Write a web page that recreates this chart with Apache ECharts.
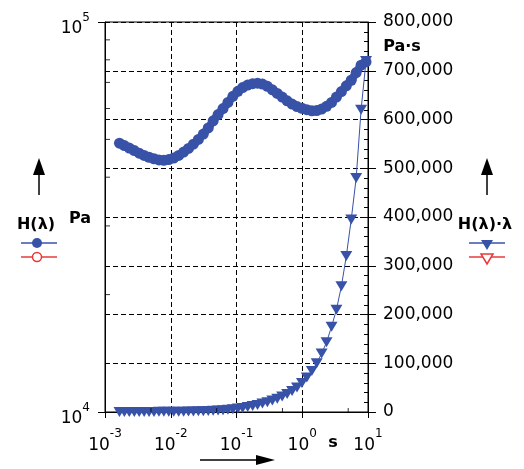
<!DOCTYPE html>
<html lang="en">
<head>
<meta charset="UTF-8">
<script src="https://cdn.jsdelivr.net/npm/echarts/dist/echarts.min.js"></script>
<style>
  html, body { margin: 0; padding: 0; background: #fff; }
  #main { width: 524px; height: 469px; }
</style>
</head>
<body>
<div id="main"></div>
<script>
// relaxation time lambda [s]
var lambda = [0.00166, 0.00197, 0.00234, 0.00279, 0.00331, 0.00394, 0.00468, 0.00556, 0.00661, 0.00785,
  0.00933, 0.0111, 0.0132, 0.0157, 0.0186, 0.0221, 0.0263, 0.0313, 0.0372, 0.0442,
  0.0525, 0.0624, 0.0741, 0.0881, 0.105, 0.124, 0.148, 0.176, 0.209, 0.248,
  0.295, 0.351, 0.417, 0.495, 0.589, 0.700, 0.832, 0.989, 1.175, 1.40,
  1.66, 1.97, 2.34, 2.79, 3.31, 3.94, 4.68, 5.56, 6.61, 7.85, 9.33];
// H(lambda) [Pa]
var hValues = [48900, 48200, 47500, 46800, 46100, 45500, 45000, 44600, 44300, 44200,
  44400, 44800, 45500, 46400, 47400, 48600, 50000, 51600, 53500, 55800,
  57900, 60000, 62200, 64500, 66400, 67900, 68900, 69500, 69700, 69300,
  68400, 67000, 65600, 64200, 62800, 61600, 60700, 60100, 59600, 59200,
  59300, 59800, 60800, 62200, 64200, 66300, 68600, 70900, 74200, 77500, 79000];
// H(lambda)*lambda [Pa*s]
var hLambda = [80, 95, 110, 130, 150, 180, 210, 250, 290, 350,
  410, 500, 600, 730, 880, 1070, 1320, 1620, 1990, 2470,
  3040, 3740, 4610, 5680, 6970, 8420, 10200, 12200, 14600, 17200,
  20200, 23500, 27400, 31800, 37000, 43100, 50500, 59400, 71000, 84000,
  100000, 120000, 143000, 175000, 210000, 258000, 320000, 395000, 480000, 620000, 720000];

var xMinorTicks = [0.005, 0.05, 0.5, 5];
var yMinorTicks = [20000, 30000, 40000, 50000, 60000, 70000, 80000, 90000];

var blue = '#3852a8';
var red = '#e8383a';
var font = 'DejaVu Sans';
var capFont = 'bold 16px "DejaVu Sans"';

var chart = echarts.init(document.getElementById('main'));

var powRich = {
  b: { fontSize: 17, fontFamily: font, color: '#000', verticalAlign: 'bottom', lineHeight: 18 },
  s: { fontSize: 12, fontFamily: font, color: '#000', verticalAlign: 'top', lineHeight: 26 }
};
function powLabel(v) {
  return '{b|10}{s|' + Math.round(Math.log10(v)) + '}';
}

var dash = { color: '#000', width: 1, type: [5, 3] };

var xTicks = xMinorTicks.map(function (v) { return [v, 0]; });
var yTicks = yMinorTicks.map(function (v) { return [0.001, v]; });
var hData = lambda.map(function (l, i) { return [l, hValues[i]]; });
var hlData = lambda.map(function (l, i) { return [l, hLambda[i]]; });

var option = {
  animation: false,
  backgroundColor: '#fff',
  grid: {
    left: 105, right: 156, top: 22, bottom: 57,
    show: true, borderColor: '#000', borderWidth: 1,
    outerBoundsMode: 'none'
  },
  xAxis: [
    {
      type: 'log', logBase: 10, min: 0.001, max: 10, position: 'bottom',
      axisLine: { show: true, lineStyle: { color: '#000', width: 1 } },
      axisTick: { show: true, inside: true, length: 6, lineStyle: { color: '#000' } },
      minorTick: { show: false },
      axisLabel: { margin: 16, formatter: powLabel, rich: powRich },
      splitLine: { show: true, lineStyle: dash }
    },
    {
      type: 'log', logBase: 10, min: 0.001, max: 10, position: 'bottom',
      axisLine: { show: false },
      axisTick: { show: true, inside: false, length: 6, lineStyle: { color: '#000' } },
      axisLabel: { show: false },
      splitLine: { show: false }
    }
  ],
  yAxis: [
    {
      type: 'log', logBase: 10, min: 10000, max: 100000, position: 'left',
      axisLine: { show: true, lineStyle: { color: '#000', width: 1 } },
      axisTick: { show: true, inside: false, length: 7, lineStyle: { color: '#000' } },
      axisLabel: { margin: 15, formatter: powLabel, rich: powRich, verticalAlign: 'middle', padding: [5, 0, 0, 0] },
      splitLine: { show: false }
    },
    {
      type: 'value', min: 0, max: 800000, interval: 100000, position: 'right',
      axisLine: { show: true, lineStyle: { color: '#000', width: 1 } },
      axisTick: { show: true, inside: true, length: 8, lineStyle: { color: '#000' } },
      minorTick: { show: true, splitNumber: 5, length: 4, lineStyle: { color: '#000' } },
      axisLabel: {
        margin: 15, fontSize: 17, fontFamily: font, color: '#000',
        formatter: function (v) { return v.toLocaleString('en-US'); }
      },
      splitLine: { show: true, lineStyle: dash }
    },
    {
      type: 'value', min: 0, max: 800000, interval: 100000, position: 'right',
      axisLine: { show: false },
      axisTick: { show: true, inside: false, length: 8, lineStyle: { color: '#000' } },
      axisLabel: { show: false },
      splitLine: { show: false }
    }
  ],
  series: [
    {
      name: 'H(λ)', type: 'line', xAxisIndex: 0, yAxisIndex: 0,
      data: hData, symbol: 'circle', symbolSize: 11, showSymbol: true,
      itemStyle: { color: blue }, lineStyle: { color: blue, width: 8 }, z: 3
    },
    {
      name: 'H(λ)·λ', type: 'line', xAxisIndex: 0, yAxisIndex: 1,
      data: hlData, symbol: 'triangle', symbolRotate: 180, symbolSize: [12, 10], showSymbol: true,
      itemStyle: { color: blue }, lineStyle: { color: blue, width: 1 }, z: 4, clip: false
    },
    {
      type: 'scatter', xAxisIndex: 0, yAxisIndex: 1, data: xTicks, silent: true,
      symbol: 'rect', symbolSize: [1, 4], symbolOffset: [0, -2], itemStyle: { color: '#000' }, z: 5, clip: false
    },
    {
      type: 'scatter', xAxisIndex: 0, yAxisIndex: 0, data: yTicks, silent: true,
      symbol: 'rect', symbolSize: [5, 1], symbolOffset: [2.5, 0], itemStyle: { color: '#000' }, z: 5, clip: false
    }
  ],
  graphic: [
    // left axis caption
    { type: 'line', shape: { x1: 39, y1: 172, x2: 39, y2: 195 }, style: { stroke: '#000', lineWidth: 1.5 } },
    { type: 'polygon', shape: { points: [[39, 158], [33, 175], [45, 175]] }, style: { fill: '#000' } },
    { type: 'text', x: 36, y: 225, style: { text: 'H(λ)', font: capFont, fill: '#000', align: 'center', verticalAlign: 'middle' } },
    { type: 'text', x: 80, y: 219, style: { text: 'Pa', font: capFont, fill: '#000', align: 'center', verticalAlign: 'middle' } },
    { type: 'line', shape: { x1: 21, y1: 243, x2: 57, y2: 243 }, style: { stroke: blue, lineWidth: 1.5 } },
    { type: 'circle', shape: { cx: 37, cy: 243, r: 5 }, style: { fill: blue } },
    { type: 'line', shape: { x1: 21, y1: 257, x2: 57, y2: 257 }, style: { stroke: red, lineWidth: 1.5 } },
    { type: 'circle', shape: { cx: 37, cy: 257, r: 4.5 }, style: { fill: '#fff', stroke: red, lineWidth: 1.5 } },
    // right axis caption
    { type: 'text', x: 402, y: 47, style: { text: 'Pa·s', font: capFont, fill: '#000', align: 'center', verticalAlign: 'middle' } },
    { type: 'line', shape: { x1: 487, y1: 172, x2: 487, y2: 195 }, style: { stroke: '#000', lineWidth: 1.5 } },
    { type: 'polygon', shape: { points: [[487, 158], [481, 175], [493, 175]] }, style: { fill: '#000' } },
    { type: 'text', x: 485, y: 225, style: { text: 'H(λ)·λ', font: capFont, fill: '#000', align: 'center', verticalAlign: 'middle' } },
    { type: 'line', shape: { x1: 469, y1: 243, x2: 505, y2: 243 }, style: { stroke: blue, lineWidth: 1.5 } },
    { type: 'polygon', shape: { points: [[481, 240], [493, 240], [487, 250]] }, style: { fill: blue } },
    { type: 'line', shape: { x1: 469, y1: 257, x2: 505, y2: 257 }, style: { stroke: red, lineWidth: 1.5 } },
    { type: 'polygon', shape: { points: [[481, 254], [493, 254], [487, 264]] }, style: { fill: '#fff', stroke: red, lineWidth: 1.5 } },
    // x axis unit and arrow
    { type: 'text', x: 333, y: 443, style: { text: 's', font: capFont, fill: '#000', align: 'center', verticalAlign: 'middle' } },
    { type: 'line', shape: { x1: 200, y1: 460, x2: 260, y2: 460 }, style: { stroke: '#000', lineWidth: 1.5 } },
    { type: 'polygon', shape: { points: [[275, 460], [256, 455], [256, 465]] }, style: { fill: '#000' } }
  ]
};

chart.setOption(option);
</script>
</body>
</html>
